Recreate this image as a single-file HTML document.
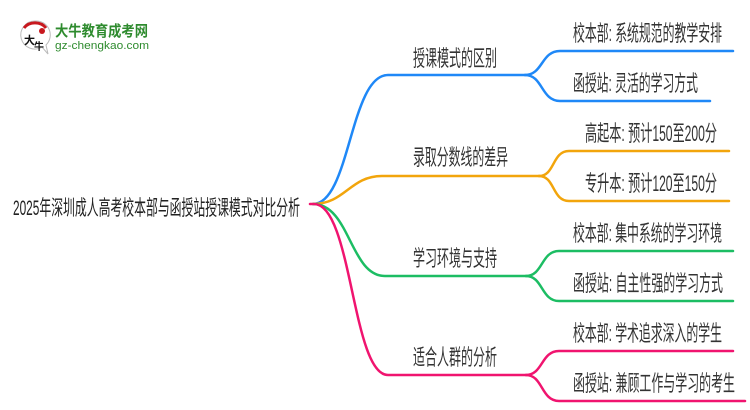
<!DOCTYPE html>
<html>
<head>
<meta charset="utf-8">
<style>
  html, body { margin: 0; padding: 0; background: #ffffff; }
  body { width: 750px; height: 410px; overflow: hidden; }
  svg { display: block; }
  text { font-family: "Liberation Sans", "Noto Sans CJK SC", sans-serif; }
</style>
</head>
<body>
<svg width="750" height="410" viewBox="0 0 750 410" xmlns="http://www.w3.org/2000/svg">
  <rect width="750" height="410" fill="#ffffff"/>

  <!-- Logo -->
  <g>
    <path d="M35,21 A14,14 0 1 0 42,47 L48,54 L46,45 A14,14 0 0 0 35,21 Z" fill="#ffffff" stroke="#bbbbbb" stroke-width="1"/>
    <path d="M24,28 A13,11 0 0 1 46,28" fill="none" stroke="#c8181e" stroke-width="3"/>
    <circle cx="42" cy="31" r="3" fill="#c8181e"/>
    <text x="24" y="44" font-size="11" fill="#111" font-weight="bold">大</text>
    <text x="34" y="50" font-size="10" fill="#111" font-weight="bold">牛</text>
    <text x="55" y="36" font-size="15" font-weight="bold" fill="#2e8b2e" textLength="93" lengthAdjust="spacingAndGlyphs">大牛教育成考网</text>
    <text x="55" y="49" font-size="11" fill="#2e8b2e" textLength="94" lengthAdjust="spacingAndGlyphs">gz-chengkao.com</text>
  </g>

  <!-- Connectors -->
  <g fill="none" stroke-width="2.5" stroke-linecap="round">
    <!-- Blue -->
    <g stroke="#1f88f7">
      <path d="M313,204 C350,204 350,75 388,75 L525,75"/>
      <path d="M525,75 C543,75 541,51 560,51 L733,51"/>
      <path d="M525,75 C543,75 541,101 560,101 L710,101"/>
    </g>
    <!-- Orange -->
    <g stroke="#f2a50c">
      <path d="M313,204 C345,204 350,176 382,176 L539,176"/>
      <path d="M539,176 C555,176 552,151 569,151 L729,151"/>
      <path d="M539,176 C555,176 552,201 569,201 L729,201"/>
    </g>
    <!-- Green -->
    <g stroke="#1cbd63">
      <path d="M313,204 C350,204 350,276 385,276 L526,276"/>
      <path d="M526,276 C543,276 541,251 559,251 L733,251"/>
      <path d="M526,276 C543,276 541,301 559,301 L733,301"/>
    </g>
    <!-- Pink -->
    <g stroke="#f0146f">
      <path d="M310,204 L314,204 C352,204 352,375 388,375 L526,375"/>
      <path d="M526,375 C543,375 541,351 559,351 L733,351"/>
      <path d="M526,375 C543,375 541,401 559,401 L745,401"/>
    </g>
  </g>

  <!-- Root -->
  <text x="13" y="215" font-size="21" fill="#222" textLength="287" lengthAdjust="spacingAndGlyphs">2025年深圳成人高考校本部与函授站授课模式对比分析</text>

  <!-- Level 1 -->
  <g fill="#333" font-size="22">
    <text x="413" y="66" textLength="84" lengthAdjust="spacingAndGlyphs">授课模式的区别</text>
    <text x="413" y="165" textLength="95" lengthAdjust="spacingAndGlyphs">录取分数线的差异</text>
    <text x="413" y="266" textLength="84" lengthAdjust="spacingAndGlyphs">学习环境与支持</text>
    <text x="413" y="365" textLength="84" lengthAdjust="spacingAndGlyphs">适合人群的分析</text>
  </g>

  <!-- Level 2 -->
  <g fill="#333" font-size="22">
    <text x="573" y="41" textLength="149" lengthAdjust="spacingAndGlyphs">校本部: 系统规范的教学安排</text>
    <text x="573" y="91" textLength="125" lengthAdjust="spacingAndGlyphs">函授站: 灵活的学习方式</text>
    <text x="585" y="141" textLength="132" lengthAdjust="spacingAndGlyphs">高起本: 预计150至200分</text>
    <text x="585" y="191" textLength="132" lengthAdjust="spacingAndGlyphs">专升本: 预计120至150分</text>
    <text x="573" y="241" textLength="149" lengthAdjust="spacingAndGlyphs">校本部: 集中系统的学习环境</text>
    <text x="573" y="291" textLength="150" lengthAdjust="spacingAndGlyphs">函授站: 自主性强的学习方式</text>
    <text x="573" y="341" textLength="149" lengthAdjust="spacingAndGlyphs">校本部: 学术追求深入的学生</text>
    <text x="573" y="391" textLength="162" lengthAdjust="spacingAndGlyphs">函授站: 兼顾工作与学习的考生</text>
  </g>
</svg>
</body>
</html>
